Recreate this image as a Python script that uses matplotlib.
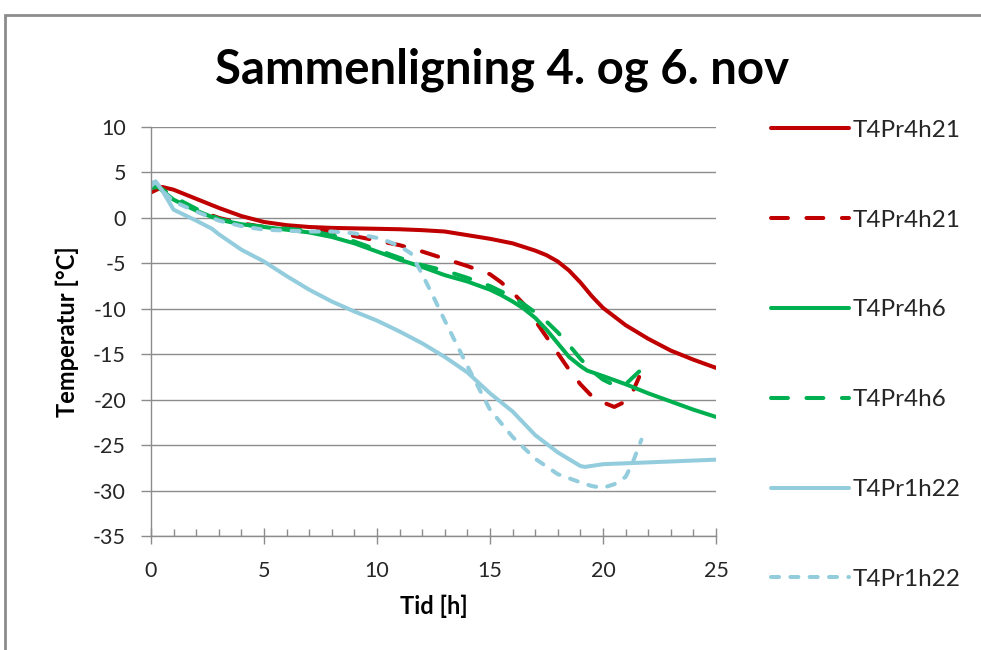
import matplotlib.pyplot as plt
from matplotlib.patches import Rectangle
from matplotlib.ticker import MultipleLocator

plt.rcParams['font.family'] = ['Lato', 'DejaVu Sans']
plt.rcParams['axes.unicode_minus'] = False

# T4Pr4h21 (4. nov, solid)
x_r1 = [0, 0.5, 1, 2, 3, 4, 5, 6, 7, 8, 9, 10, 11, 12, 13, 14, 15, 16, 16.5, 17,
        17.5, 18, 18.5, 19, 19.5, 20, 21, 22, 23, 24, 25]
y_r1 = [2.8, 3.4, 3.1, 2.1, 1.1, 0.2, -0.45, -0.8, -1.0, -1.1, -1.15, -1.2, -1.25, -1.35,
        -1.5, -1.9, -2.3, -2.8, -3.2, -3.6, -4.1, -4.8, -5.8, -7.1, -8.6, -9.9, -11.8,
        -13.3, -14.6, -15.6, -16.5]
# T4Pr4h21 (6. nov, dashed)
x_r2 = [0, 0.3, 1, 2, 3, 4, 5, 6, 7, 8, 9, 10, 11, 12, 13, 14, 15, 15.5, 16, 16.5,
        17, 17.5, 18, 18.5, 19, 19.5, 20, 20.5, 21, 21.3, 21.6]
y_r2 = [3.5, 3.6, 2.0, 0.9, 0.0, -0.6, -1.0, -1.2, -1.3, -1.5, -2.0, -2.5, -3.0, -3.7,
        -4.5, -5.3, -6.2, -7.1, -8.2, -9.5, -11.3, -13.1, -14.9, -16.7, -18.3, -19.6,
        -20.3, -20.8, -20.2, -19.2, -17.5]
# T4Pr4h6 (solid)
x_g1 = [0, 0.3, 1, 2, 3, 4, 5, 6, 7, 8, 9, 10, 11, 12, 13, 14, 15, 15.5, 16, 16.5, 17,
        17.5, 18, 18.5, 19, 19.3, 20, 21, 22, 23, 24, 25]
y_g1 = [3.3, 3.4, 2.0, 0.8, -0.2, -0.7, -1.0, -1.3, -1.6, -2.1, -2.8, -3.7, -4.6, -5.4,
        -6.3, -7.0, -7.9, -8.5, -9.2, -10.0, -11.0, -12.3, -13.8, -15.3, -16.3, -16.8,
        -17.4, -18.3, -19.3, -20.2, -21.1, -21.9]
# T4Pr4h6 (dashed)
x_g2 = [0, 0.3, 1, 2, 3, 4, 5, 6, 7, 8, 9, 10, 11, 12, 13, 14, 15, 16, 16.5, 17, 17.5,
        18, 18.5, 19, 19.5, 20, 20.5, 21, 21.3, 21.6]
y_g2 = [3.6, 3.5, 2.3, 1.0, -0.1, -0.7, -1.0, -1.2, -1.4, -1.9, -2.6, -3.5, -4.4, -5.2,
        -5.8, -6.6, -7.5, -8.7, -9.5, -10.4, -11.4, -12.6, -14.0, -15.5, -16.8, -17.8,
        -18.4, -18.3, -17.6, -16.9]
# T4Pr1h22 (solid)
x_b1 = [0, 0.2, 0.5, 1, 2, 2.7, 3, 4, 5, 6, 7, 8, 9, 10, 11, 12, 13, 14, 15, 16, 17,
        18, 19, 19.2, 20, 21, 22, 23, 24, 25]
y_b1 = [3.5, 4.0, 3.0, 0.9, -0.3, -1.2, -1.8, -3.5, -4.8, -6.4, -7.9, -9.2, -10.3,
        -11.3, -12.5, -13.8, -15.3, -17.0, -19.3, -21.3, -23.9, -25.8, -27.3, -27.4,
        -27.1, -27.0, -26.9, -26.8, -26.7, -26.6]
# T4Pr1h22 (dashed)
x_b2 = [0, 0.2, 0.5, 1, 2, 3, 4, 5, 6, 7, 8, 9, 10, 10.5, 11, 11.5, 12, 12.5, 13, 13.5,
        14, 14.5, 15, 16, 17, 18, 19, 19.5, 20, 20.5, 21, 21.3, 21.7]
y_b2 = [3.8, 4.0, 3.0, 1.8, 0.7, -0.3, -0.9, -1.3, -1.4, -1.5, -1.5, -1.7, -2.2, -2.6,
        -3.1, -3.9, -6.2, -8.7, -11.3, -13.8, -16.3, -18.7, -21.1, -24.1, -26.5, -28.2,
        -29.1, -29.5, -29.7, -29.3, -28.5, -27.0, -24.4]

labels = ['T4Pr4h21', 'T4Pr4h21', 'T4Pr4h6', 'T4Pr4h6', 'T4Pr1h22', 'T4Pr1h22']

red = '#C00000'
green = '#00B050'
blue = '#93CDDD'
lw = 2.9

fig = plt.figure(figsize=(9.81, 6.5), dpi=100)
ax = fig.add_axes([151 / 981, 1 - 536 / 650, 565 / 981, 409 / 650])

ax.plot(x_r1, y_r1, color=red, lw=lw, solid_capstyle='round', label=labels[0])
ax.plot(x_r2, y_r2, color=red, lw=lw, ls=(0, (4.2, 4.6)), dash_capstyle='round', label=labels[1])
ax.plot(x_g1, y_g1, color=green, lw=lw, solid_capstyle='round', label=labels[2])
ax.plot(x_g2, y_g2, color=green, lw=lw, ls=(0, (4.2, 4.6)), dash_capstyle='round', label=labels[3])
ax.plot(x_b1, y_b1, color=blue, lw=lw, solid_capstyle='round', label=labels[4])
ax.plot(x_b2, y_b2, color=blue, lw=lw, ls=(0, (2.0, 2.8)), dash_capstyle='round', label=labels[5])

ax.set_xlim(0, 25)
ax.set_ylim(-35, 10)
ax.xaxis.set_major_locator(MultipleLocator(5))
ax.xaxis.set_minor_locator(MultipleLocator(1))
ax.yaxis.set_major_locator(MultipleLocator(5))
ax.grid(axis='y', color='#8c8c8c', lw=1.0)
ax.set_axisbelow(True)
for s in ['top', 'right']:
    ax.spines[s].set_visible(False)
for s in ['left', 'bottom']:
    ax.spines[s].set_color('#8c8c8c')
    ax.spines[s].set_linewidth(1.0)
ax.tick_params(axis='x', which='major', direction='inout', length=12, width=1, color='#8c8c8c',
               labelsize=15.5, labelcolor='#262626', pad=12)
ax.tick_params(axis='x', which='minor', direction='in', length=5, width=1, color='#8c8c8c')
ax.tick_params(axis='y', which='major', direction='out', length=7, width=1, color='#8c8c8c',
               labelsize=15.5, labelcolor='#262626', pad=11)

ax.set_xlabel('Tid [h]', fontsize=17, fontweight='bold', labelpad=10)
ax.set_ylabel('Temperatur [°C]', fontsize=17, fontweight='bold', labelpad=10)

fig.text(502 / 981, 1 - 70 / 650, 'Sammenligning 4. og 6. nov', ha='center', va='center',
         fontsize=34, fontweight='bold')

fig.legend(loc='upper left', bbox_to_anchor=(749 / 981, 1 - 98 / 650), frameon=False,
           fontsize=17.5, handlelength=3.2, handletextpad=0.15, labelspacing=2.83,
           labelcolor='#262626')

# chart area frame
fig.patches.append(Rectangle((5 / 981, -0.05), 1.2, 1 - 15 / 650 + 0.05, transform=fig.transFigure,
                             fill=False, edgecolor='#8c8c8c', lw=2))

plt.savefig('out.png', dpi=100)
